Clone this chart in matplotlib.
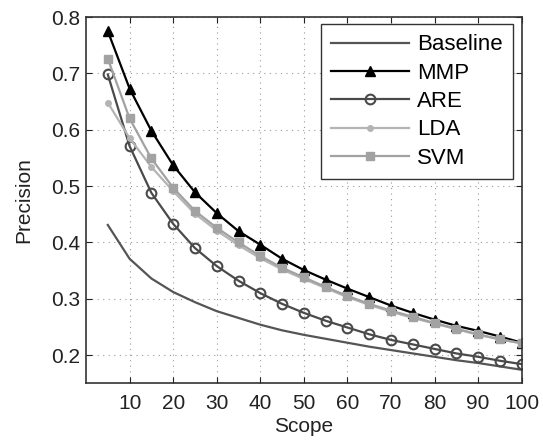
import matplotlib
matplotlib.use("Agg")
import matplotlib.pyplot as plt

plt.rcParams['font.family'] = ['Liberation Sans', 'DejaVu Sans']

scope = [5, 10, 15, 20, 25, 30, 35, 40, 45, 50, 55, 60, 65, 70, 75, 80, 85, 90, 95, 100]

baseline = [0.431, 0.371, 0.336, 0.312, 0.294, 0.278, 0.266, 0.254, 0.244, 0.236,
            0.229, 0.222, 0.215, 0.209, 0.203, 0.197, 0.191, 0.186, 0.180, 0.174]
mmp = [0.775, 0.673, 0.598, 0.537, 0.489, 0.452, 0.420, 0.396, 0.371, 0.351,
       0.334, 0.318, 0.303, 0.288, 0.275, 0.263, 0.252, 0.243, 0.233, 0.222]
are = [0.698, 0.571, 0.488, 0.433, 0.390, 0.358, 0.332, 0.310, 0.291, 0.275,
       0.261, 0.249, 0.237, 0.227, 0.219, 0.211, 0.203, 0.197, 0.190, 0.184]
lda = [0.648, 0.585, 0.534, 0.491, 0.451, 0.421, 0.395, 0.372, 0.352, 0.335,
       0.319, 0.303, 0.289, 0.277, 0.266, 0.256, 0.246, 0.236, 0.228, 0.221]
svm = [0.726, 0.620, 0.549, 0.497, 0.456, 0.426, 0.400, 0.376, 0.355, 0.338,
       0.321, 0.305, 0.291, 0.279, 0.268, 0.257, 0.247, 0.237, 0.228, 0.221]

xticks = [10, 20, 30, 40, 50, 60, 70, 80, 90, 100]
yticks = [0.2, 0.3, 0.4, 0.5, 0.6, 0.7, 0.8]

fig = plt.figure(figsize=(5.43, 4.44), dpi=100)
ax = fig.add_axes([0.1584, 0.1367, 0.8024, 0.825])

ax.plot(scope, baseline, color='#555555', lw=1.6, label='Baseline')
ax.plot(scope, mmp, color='black', lw=1.6, marker='^', ms=7,
        mfc='black', mec='black', label='MMP')
ax.plot(scope, are, color='#4a4a4a', lw=1.6, marker='o', ms=7,
        mfc='none', mec='#4a4a4a', mew=1.5, label='ARE')
ax.plot(scope, lda, color='#b4b4b4', lw=1.6, marker='o', ms=4,
        mfc='#b4b4b4', mec='#b4b4b4', label='LDA')
ax.plot(scope, svm, color='#a2a2a2', lw=1.6, marker='s', ms=5.5,
        mfc='#a2a2a2', mec='#a2a2a2', label='SVM')

ax.set_xlim(0, 100)
ax.set_ylim(0.15, 0.8)
ax.set_xticks(xticks)
ax.set_yticks(yticks)
ax.set_yticklabels([f"{v:.1f}" for v in yticks])
ax.tick_params(direction='in', length=4, width=0.8, top=True, right=True,
               labelsize=15, colors='#222222')
ax.tick_params(axis='x', pad=7.5)
ax.tick_params(axis='y', pad=4)
ax.grid(True, linestyle=(0, (1, 4)), color='#999999', lw=0.8)
for s in ax.spines.values():
    s.set_linewidth(1.2)
    s.set_color('#333333')

ax.set_xlabel('Scope', fontsize=15, labelpad=3, color='#222222')
ax.set_ylabel('Precision', fontsize=15, labelpad=13, color='#222222')

# legend box sits a few px inside the top-right corner, MATLAB style
leg = ax.legend(loc='upper right', bbox_to_anchor=(0.979, 0.98), borderaxespad=0,
                fontsize=16, handlelength=3.5, labelspacing=0.33, handletextpad=0.35,
                borderpad=0.45, fancybox=False, framealpha=1)
leg.get_frame().set_edgecolor('#333333')
leg.get_frame().set_linewidth(1.0)

fig.savefig('out.png', dpi=100)
